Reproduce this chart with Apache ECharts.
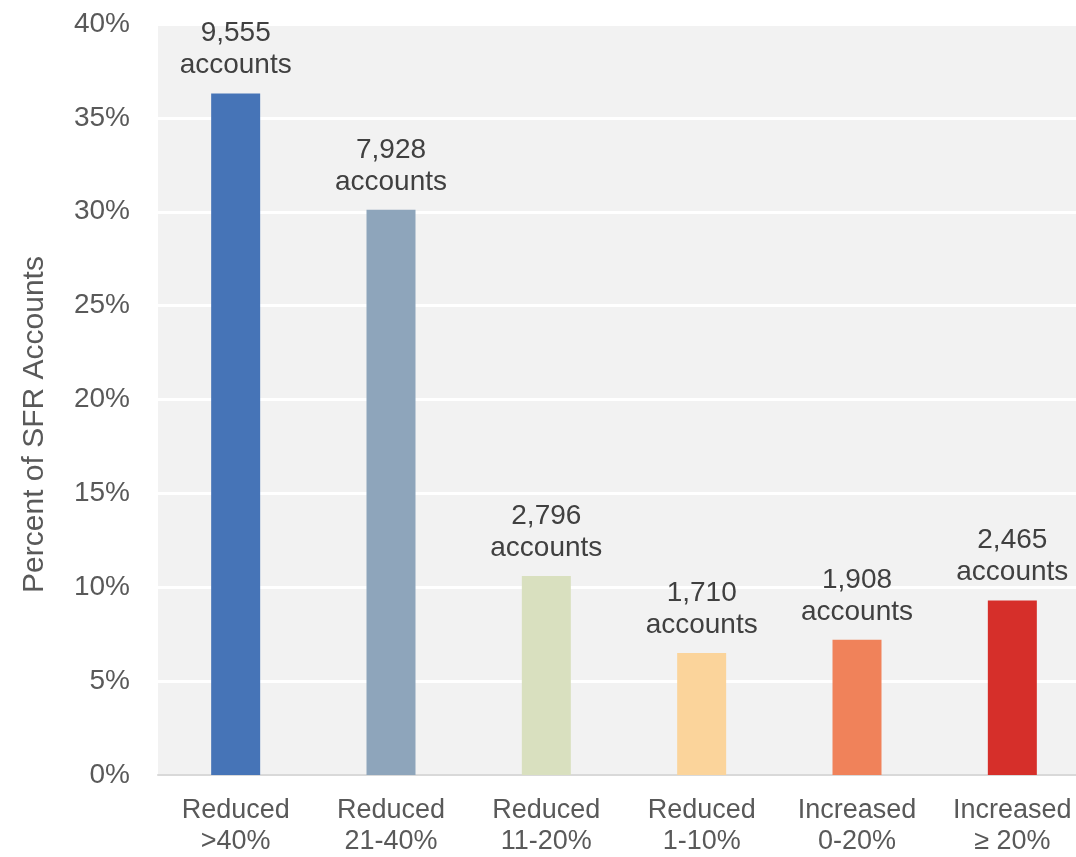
<!DOCTYPE html>
<html>
<head>
<meta charset="utf-8">
<script src="https://cdn.jsdelivr.net/npm/echarts@6/dist/echarts.min.js"></script>
<style>
  html, body { margin: 0; padding: 0; background: #fff; overflow: hidden; }
</style>
</head>
<body>
<!-- plot area runs past the right edge of the picture, so the chart is a bit wider than the window -->
<div id="echart" style="width: 1090px; height: 857px"></div>
<script>
// categories and values
var categories = ["Reduced\n>40%", "Reduced\n21-40%", "Reduced\n11-20%", "Reduced\n1-10%", "Increased\n0-20%", "Increased\n≥ 20%"];
var percents = [36.3, 30.1, 10.6, 6.5, 7.2, 9.3];
var accounts = ["9,555", "7,928", "2,796", "1,710", "1,908", "2,465"];
var barColors = ["#4674b7", "#8ea5bb", "#d9e0bf", "#fbd49b", "#f0825a", "#d62f2a"];

var myChart = echarts.init(document.getElementById("echart"));
var font = "Liberation Sans, Arial, sans-serif";

var option = {
  animation: false,
  grid: {
    left: 158,
    right: 0,
    top: 24,
    bottom: 82,
    show: true,
    backgroundColor: "#f2f2f2",
    borderWidth: 0
  },
  xAxis: {
    type: "category",
    data: categories,
    axisTick: { show: false },
    axisLine: { lineStyle: { color: "#d9d9d9", width: 2 } },
    axisLabel: {
      color: "#595959",
      fontSize: 27,
      fontFamily: font,
      lineHeight: 31,
      margin: 20,
      interval: 0
    }
  },
  yAxis: {
    type: "value",
    min: 0,
    max: 40,
    interval: 5,
    name: "Percent of SFR Accounts",
    nameLocation: "middle",
    nameGap: 108,
    nameTextStyle: {
      color: "#595959",
      fontSize: 30,
      fontFamily: font,
      padding: [0, 50, 0, 0]
    },
    axisLabel: {
      formatter: "{value}%",
      color: "#595959",
      fontSize: 28,
      fontFamily: font,
      margin: 28
    },
    splitLine: { lineStyle: { color: "#ffffff", width: 3 } },
    axisLine: { show: false },
    axisTick: { show: false }
  },
  series: [
    {
      type: "bar",
      barWidth: 49,
      data: percents.map(function (v, i) {
        return { value: v, itemStyle: { color: barColors[i] } };
      }),
      label: {
        show: true,
        position: "top",
        distance: 12,
        color: "#404040",
        fontSize: 28,
        fontFamily: font,
        lineHeight: 32,
        formatter: function (p) {
          return accounts[p.dataIndex] + "\naccounts";
        }
      }
    }
  ]
};
myChart.setOption(option);
</script>
</body>
</html>
